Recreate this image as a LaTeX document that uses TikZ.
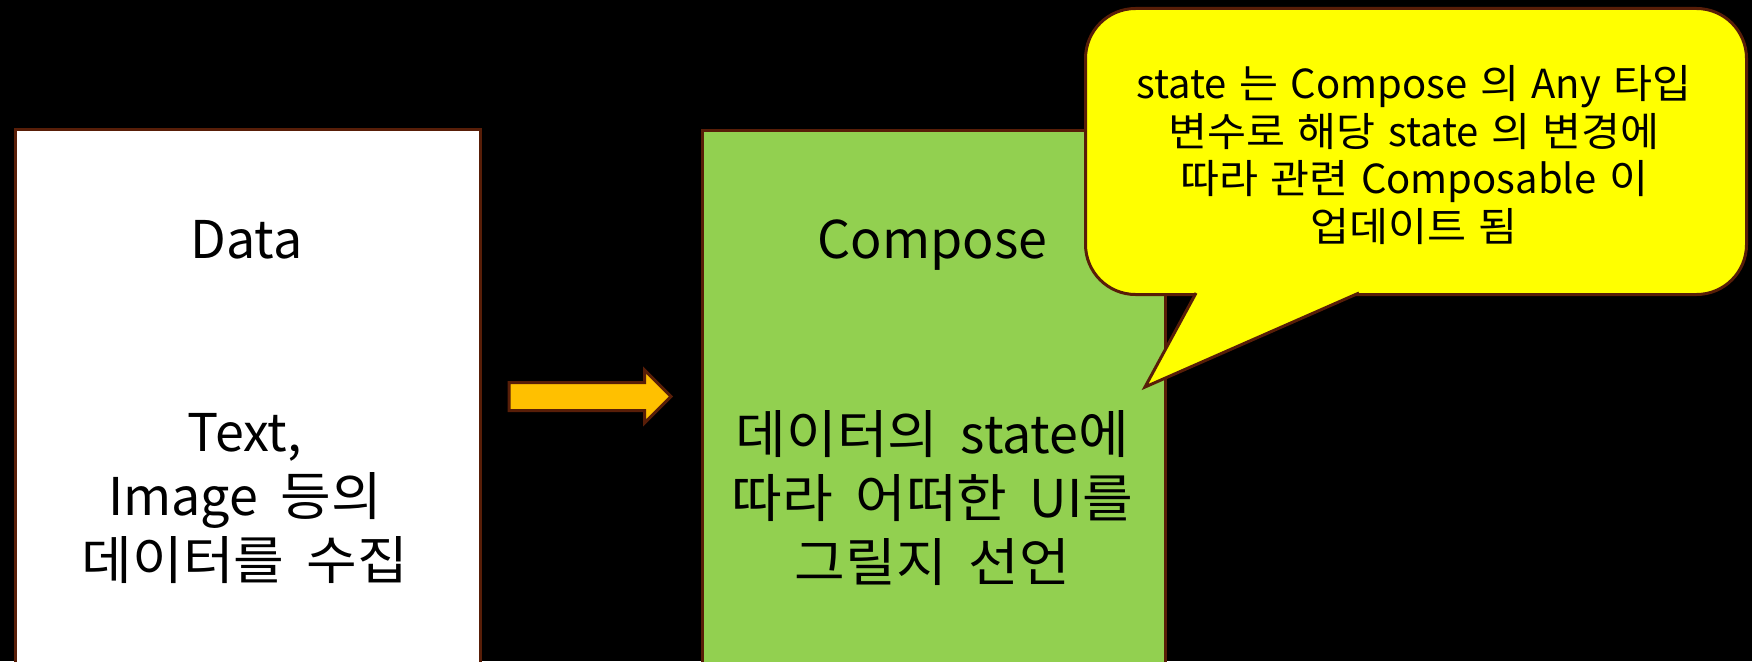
\documentclass[tikz,border=0pt]{standalone}
\usepackage{fontspec}
\setmainfont{Noto Sans CJK KR}[WordSpace=1.9]
\newfontfamily\hangul{Noto Sans CJK KR}[FakeStretch=1.06]
\newfontfamily\notefont{Noto Sans CJK KR}[WordSpace=1.4]
\newcommand{\ko}[1]{{\hangul #1}}
\usetikzlibrary{shapes.arrows}
\definecolor{edgebrown}{RGB}{88,30,8}
\definecolor{leafgreen}{RGB}{146,208,80}
\definecolor{amber}{RGB}{255,192,0}
\definecolor{notefill}{RGB}{255,255,0}
\tikzset{
  panel/.style={draw=edgebrown, line width=3pt, anchor=north west, inner sep=0pt,
                minimum width=463pt, minimum height=560pt},
  bigtext/.style={font=\fontsize{52}{64}\selectfont, align=center, inner sep=0pt},
  notetext/.style={font=\notefont\fontsize{40}{47.5}\selectfont, align=center, inner sep=0pt},
  flowarrow/.style={single arrow, draw=edgebrown, line width=3pt, fill=amber,
                    minimum height=162pt, inner xsep=0pt, inner ysep=12.5pt,
                    single arrow head extend=12.5pt, single arrow head indent=0pt},
  outline/.style={draw=edgebrown, line width=3pt},
}
\begin{document}
\begin{tikzpicture}[x=1pt,y=-1pt]
  % canvas
  \fill[black] (0,0) rectangle (1752,661);
  \useasboundingbox (0,0) rectangle (1752,661);
  \begin{scope}
    \clip (0,0) rectangle (1752,661);
    % data column
    \node[panel, fill=white, minimum width=465pt] (data) at (14,128) {};
    \node[bigtext, anchor=base] (datatitle) at (246.5,258) {Data};
    \node[bigtext] (databody) at (245,498)
      {Text,\\Image \ko{등의}\\\ko{데이터를} \ko{수집}};
    % compose column
    \node[panel, fill=leafgreen] (compose) at (701,129) {};
    \node[bigtext, anchor=base] (composetitle) at (932.5,258) {Compose};
    \node[bigtext] (composebody) at (932.5,498)
      {\ko{데이터의} state\ko{에}\\\ko{따라} \ko{어떠한} UI\ko{를}\\\ko{그릴지} \ko{선언}};
    % flow from data to compose
    \node[flowarrow] (flow) at (583,396.5) {};
    % speech bubble
    \node[outline, fill=notefill, rounded corners=50pt, anchor=north west,
          minimum width=661pt, minimum height=286pt] (note) at (1084,7) {};
    \coordinate (tailtip) at (1145,387);
    \coordinate (tailleft) at (1196,293);
    \coordinate (tailright) at (1359,293);
    \fill[notefill] (1197.6,290) -- (tailtip) -- (1365.8,290) -- cycle;
    \draw[outline, line join=miter] (tailleft) -- (tailtip) -- (tailright);
    \node[notetext] (notebody) at (1414,155)
      {state \ko{는} Compose \ko{의} Any \ko{타입}\\\ko{변수로} \ko{해당} state \ko{의} \ko{변경에}\\\ko{따라} \ko{관련} Composable \ko{이}\\\ko{업데이트} \ko{됨}};
  \end{scope}
\end{tikzpicture}
\end{document}
